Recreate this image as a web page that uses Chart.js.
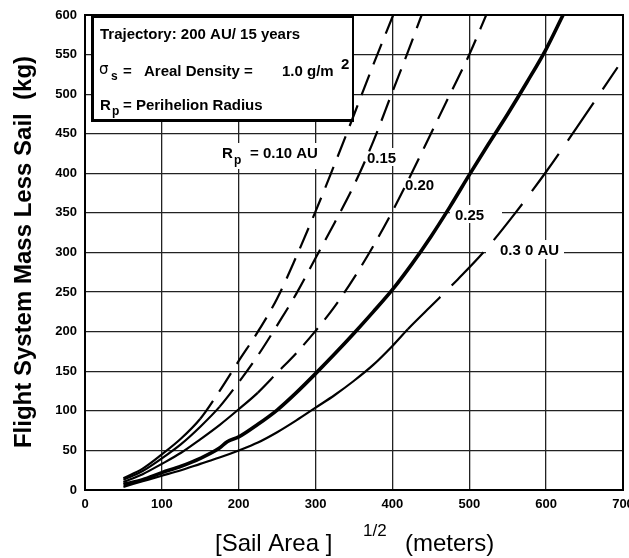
<!DOCTYPE html>
<html>
<head>
<meta charset="utf-8">
<script src="https://cdn.jsdelivr.net/npm/chart.js@4.4.1/dist/chart.umd.min.js"></script>
<style>
    html, body { margin: 0; padding: 0; background: #fff; }
</style>
</head>
<body>
<canvas id="massChart" width="629" height="558"></canvas>
<script>
// values: x = sqrt(sail area) in m, y = mass in kg
const rp010X = [50, 75, 100, 125, 150, 175, 200, 225, 250, 275, 300, 325, 350, 375, 401];
const rp010Y = [15, 27, 45, 65, 90, 125, 163, 200, 242, 295, 352, 412, 474, 537, 600];

const rp015X = [50, 75, 100, 125, 150, 175, 200, 225, 250, 275, 300, 325, 350, 375, 400, 420, 438];
const rp015Y = [13, 24, 40, 58, 80, 105, 136, 170, 208, 248, 293, 338, 385, 440, 503, 553, 600];

const rp020X = [50, 75, 100, 125, 150, 175, 200, 225, 250, 275, 300, 325, 350, 375, 400, 425, 450, 475, 500, 522];
const rp020Y = [10, 20, 33, 47, 64, 82, 102, 123, 148, 173, 201, 232, 268, 308, 352, 400, 450, 500, 550, 600];

const rp025X = [50, 75, 100, 125, 150, 175, 185, 200, 225, 250, 275, 300, 325, 350, 375, 400, 425, 450, 475, 500, 525, 550, 575, 600, 622];
const rp025Y = [7, 13, 22, 30, 40, 53, 61, 67, 83, 101, 123, 147, 172, 198, 225, 253, 285, 320, 358, 398, 437, 475, 515, 557, 600];

const rp030X = [50, 75, 100, 125, 150, 175, 200, 225, 250, 275, 300, 325, 350, 375, 400, 420, 450, 485, 520, 560, 600, 640, 693];
const rp030Y = [4, 11, 18, 25, 33, 41, 50, 60, 73, 88, 104, 120, 138, 158, 182, 203, 232, 266, 302, 350, 402, 458, 534];

// where each curve switches from solid to dashed
const solidUntil = [140, 171, 219, 9999, 420];

const xTicks = { min: 0, max: 700, step: 100 };
const yTicks = { min: 0, max: 600, step: 50 };

function toPoints(xs, ys) {
    return xs.map((x, i) => ({ x: x, y: ys[i] }));
}

function curve(xs, ys, width, dash, limit) {
    return {
        data: toPoints(xs, ys),
        borderColor: '#000',
        borderWidth: width,
        pointRadius: 0,
        fill: false,
        cubicInterpolationMode: 'monotone',
        segment: {
            borderDash: c => c.p0.parsed.x >= limit ? dash : undefined
        }
    };
}

const annotate = {
    id: 'annotate',
    beforeDatasetsDraw(chart) {
        const ctx = chart.ctx;
        const a = chart.chartArea;
        ctx.save();

        // outer frame
        ctx.strokeStyle = '#000';
        ctx.lineWidth = 2;
        ctx.strokeRect(a.left, a.top, a.right - a.left, a.bottom - a.top);

        // legend box
        ctx.fillStyle = '#fff';
        ctx.fillRect(91, 16, 263, 106);
        ctx.lineWidth = 2;
        ctx.strokeRect(92, 17, 261, 104);
        ctx.fillStyle = '#000';
        ctx.fillRect(91, 17, 3, 105);
        ctx.fillRect(91, 119, 263, 3);

        // white patches behind curve labels
        ctx.fillStyle = '#fff';
        ctx.fillRect(219, 143, 108, 26);
        ctx.fillRect(364, 148, 36, 18);
        ctx.fillRect(398, 176, 52, 18);
        ctx.fillRect(450, 205, 52, 18);
        ctx.fillRect(486, 240, 78, 19);

        ctx.fillStyle = '#000';
        ctx.textBaseline = 'alphabetic';
        ctx.textAlign = 'left';
        const f = 'bold 15px "Liberation Sans", Arial, sans-serif';
        const fs = 'bold 12px "Liberation Sans", Arial, sans-serif';

        ctx.font = f;
        ctx.fillText('Trajectory: 200 AU/ 15 years', 100, 39);

        ctx.font = '15px "DejaVu Sans", sans-serif';
        ctx.fillText('\u03c3', 99, 74);
        ctx.font = fs;
        ctx.fillText('s', 111, 80);
        ctx.font = f;
        ctx.fillText('=', 123, 76);
        ctx.fillText('Areal Density =', 144, 76);
        ctx.fillText('1.0 g/m', 282, 76);
        ctx.fillText('2', 341, 69);

        ctx.fillText('R', 100, 110);
        ctx.font = fs;
        ctx.fillText('p', 112, 115);
        ctx.font = f;
        ctx.fillText('= Perihelion Radius', 123, 110);

        // curve labels
        ctx.fillText('R', 222, 158);
        ctx.font = fs;
        ctx.fillText('p', 234, 164);
        ctx.font = f;
        ctx.fillText('= 0.10 AU', 250, 158);
        ctx.fillText('0.15', 367, 163);
        ctx.fillText('0.20', 405, 190);
        ctx.fillText('0.25', 455, 220);
        ctx.fillText('0.3 0 AU', 500, 255);

        ctx.restore();
    },
    afterDraw(chart) {
        const ctx = chart.ctx;
        ctx.save();
        ctx.fillStyle = '#000';
        ctx.textBaseline = 'alphabetic';

        // x axis title with superscript
        ctx.textAlign = 'left';
        ctx.font = '24px "Liberation Sans", Arial, sans-serif';
        ctx.fillText('[Sail Area ]', 215, 551);
        ctx.font = '17px "Liberation Sans", Arial, sans-serif';
        ctx.fillText('1/2', 363, 536);
        ctx.font = '24px "Liberation Sans", Arial, sans-serif';
        ctx.fillText('(meters)', 405, 551);

        // y axis title
        ctx.translate(31, 252);
        ctx.rotate(-Math.PI / 2);
        ctx.textAlign = 'center';
        ctx.font = 'bold 24px "Liberation Sans", Arial, sans-serif';
        ctx.fillText('Flight System Mass Less Sail  (kg)', 0, 0);
        ctx.restore();
    }
};

const tickFont = { family: '"Liberation Sans", Arial, sans-serif', size: 13, weight: 'bold' };

new Chart(document.getElementById('massChart'), {
    type: 'line',
    data: {
        datasets: [
            curve(rp010X, rp010Y, 2.2, [22, 11], solidUntil[0]),
            curve(rp015X, rp015Y, 2.2, [22, 11], solidUntil[1]),
            curve(rp020X, rp020Y, 2.2, [22, 11], solidUntil[2]),
            curve(rp025X, rp025Y, 3.6, [], solidUntil[3]),
            curve(rp030X, rp030Y, 2.2, [46, 16], solidUntil[4])
        ]
    },
    options: {
        responsive: false,
        animation: false,
        devicePixelRatio: 1,
        layout: { padding: { left: 0, top: 15, right: 6, bottom: 0 } },
        plugins: {
            legend: { display: false },
            tooltip: { enabled: false },
            title: { display: false }
        },
        scales: {
            x: {
                type: 'linear',
                min: xTicks.min,
                max: xTicks.max,
                ticks: { stepSize: xTicks.step, color: '#000', font: tickFont, padding: 7, maxRotation: 0 },
                grid: { color: '#222', lineWidth: 1.3, drawTicks: false },
                border: { color: '#000', width: 2 },
                afterFit: s => { s.height = 68; s.paddingLeft = 0; s.paddingRight = 0; }
            },
            y: {
                type: 'linear',
                min: yTicks.min,
                max: yTicks.max,
                ticks: { stepSize: yTicks.step, color: '#000', font: tickFont, padding: 8 },
                grid: { color: '#222', lineWidth: 1.3, drawTicks: false },
                border: { color: '#000', width: 2 },
                afterFit: s => { s.width = 85; s.paddingTop = 0; s.paddingBottom = 0; }
            }
        }
    },
    plugins: [annotate]
});
</script>
</body>
</html>
